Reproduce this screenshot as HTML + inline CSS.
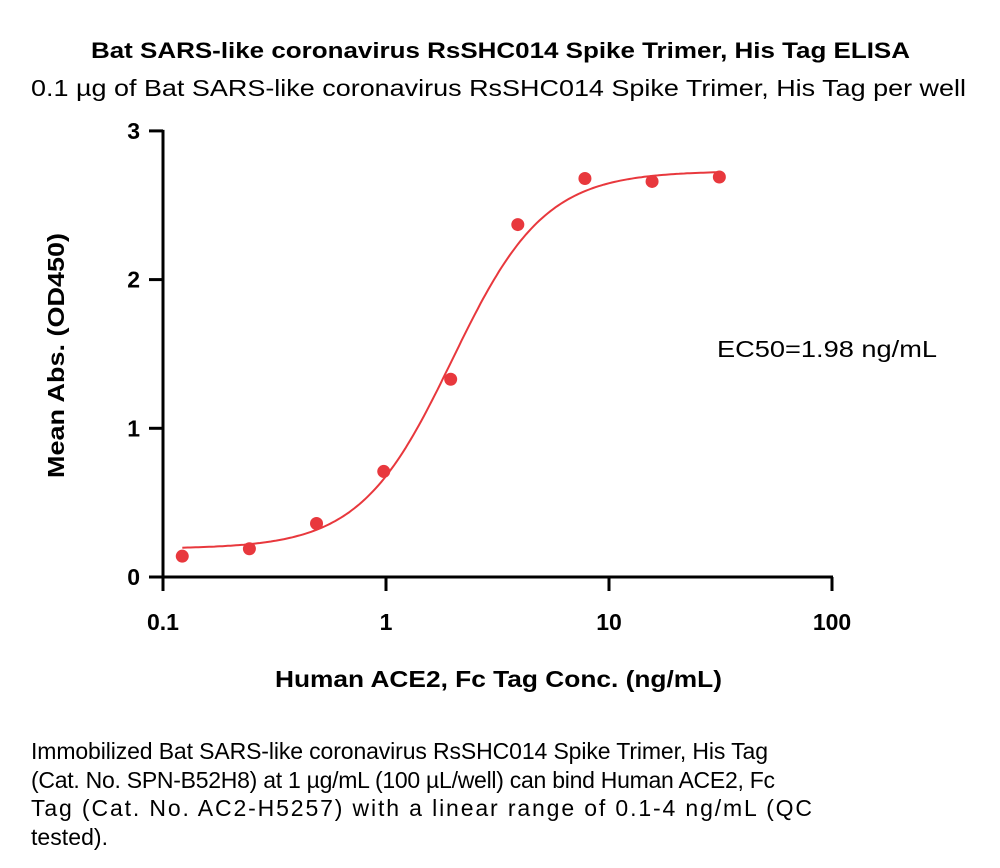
<!DOCTYPE html>
<html><head><meta charset="utf-8"><style>
body{margin:0;background:#fff;width:1000px;height:868px;overflow:hidden;font-family:"Liberation Sans",sans-serif}
svg{position:absolute;left:0;top:0}
</style></head><body>
<svg width="1000" height="868" id="chart" font-family="Liberation Sans, sans-serif">
<text x="91" y="58" font-size="22" font-weight="bold" textLength="819" lengthAdjust="spacingAndGlyphs">Bat SARS-like coronavirus RsSHC014 Spike Trimer, His Tag ELISA</text>
<text x="31" y="96" font-size="23" textLength="935" lengthAdjust="spacingAndGlyphs">0.1 µg of Bat SARS-like coronavirus RsSHC014 Spike Trimer, His Tag per well</text>
<text x="275" y="687" font-size="23" font-weight="bold" textLength="447" lengthAdjust="spacingAndGlyphs">Human ACE2, Fc Tag Conc. (ng/mL)</text>
<text transform="translate(64,478) rotate(-90)" font-size="23" font-weight="bold" textLength="245" lengthAdjust="spacingAndGlyphs">Mean Abs. (OD450)</text>
<text x="717" y="357" font-size="23" textLength="220" lengthAdjust="spacingAndGlyphs">EC50=1.98 ng/mL</text>
<g id="axes"></g><g id="marks"></g>
<g font-size="23">
<text x="31" y="759" textLength="737" lengthAdjust="spacing">Immobilized Bat SARS-like coronavirus RsSHC014 Spike Trimer, His Tag</text>
<text x="31" y="788" textLength="744" lengthAdjust="spacing">(Cat. No. SPN-B52H8) at 1 µg/mL (100 µL/well) can bind Human ACE2, Fc</text>
<text x="31" y="816" textLength="781" lengthAdjust="spacing">Tag (Cat. No. AC2-H5257) with a linear range of 0.1-4 ng/mL (QC</text>
<text x="31" y="845" textLength="77" lengthAdjust="spacing">tested).</text>
</g>
</svg>
<script>
const concs=[0.122,0.244,0.488,0.977,1.95,3.9,7.8,15.6,31.25];
const values=[0.14,0.19,0.36,0.71,1.33,2.37,2.68,2.66,2.69];
const yTicks=[0,1,2,3];
const xTicks=[0.1,1,10,100];
const xTickLabels=["0.1","1","10","100"];
const fitBottom=0.19,fitTop=2.73,fitEC50=1.98,fitHill=2.1;
const NS="http://www.w3.org/2000/svg";
const xs=v=>163+(Math.log10(v)+1)*223;
const ys=v=>577-v*148.7;
function mk(t,a,p){const e=document.createElementNS(NS,t);for(const k in a)e.setAttribute(k,a[k]);p.appendChild(e);return e;}
const ax=document.getElementById('axes'),mg=document.getElementById('marks');
let e=mk('line',{x1:163,y1:ys(3)-1,x2:163,y2:577,stroke:'#000','stroke-width':3},ax);

e=mk('line',{x1:149,y1:577,x2:xs(100)+1,y2:577,stroke:'#000','stroke-width':3},ax);

yTicks.forEach(v=>{const y=ys(v);
 let t=mk('line',{x1:149,y1:y,x2:163,y2:y,stroke:'#000','stroke-width':3},ax);
 
 t=mk('text',{x:140,y:y+8,'text-anchor':'end','font-size':23,'font-weight':'bold'},ax);t.textContent=v;
 });
xTicks.forEach((v,i)=>{const x=xs(v);
 let t=mk('line',{x1:x,y1:577,x2:x,y2:591,stroke:'#000','stroke-width':3},ax);
 
 t=mk('text',{x:x,y:630,'text-anchor':'middle','font-size':23,'font-weight':'bold'},ax);t.textContent=xTickLabels[i];
 });
let d='';const lo=Math.log10(concs[0]),hi=Math.log10(concs[concs.length-1]);
for(let i=0;i<=200;i++){const lx=lo+(hi-lo)*i/200,c=Math.pow(10,lx);
 const v=fitBottom+(fitTop-fitBottom)/(1+Math.pow(fitEC50/c,fitHill));
 d+=(i?'L':'M')+xs(c).toFixed(1)+' '+ys(v).toFixed(1);}
e=mk('path',{d:d,fill:'none',stroke:'#e8383d','stroke-width':2},mg);

concs.forEach((c,i)=>{const p=mk('circle',{cx:xs(c),cy:ys(values[i]),r:6.5,fill:'#e8383d'},mg);
 });
</script>
</body></html>
